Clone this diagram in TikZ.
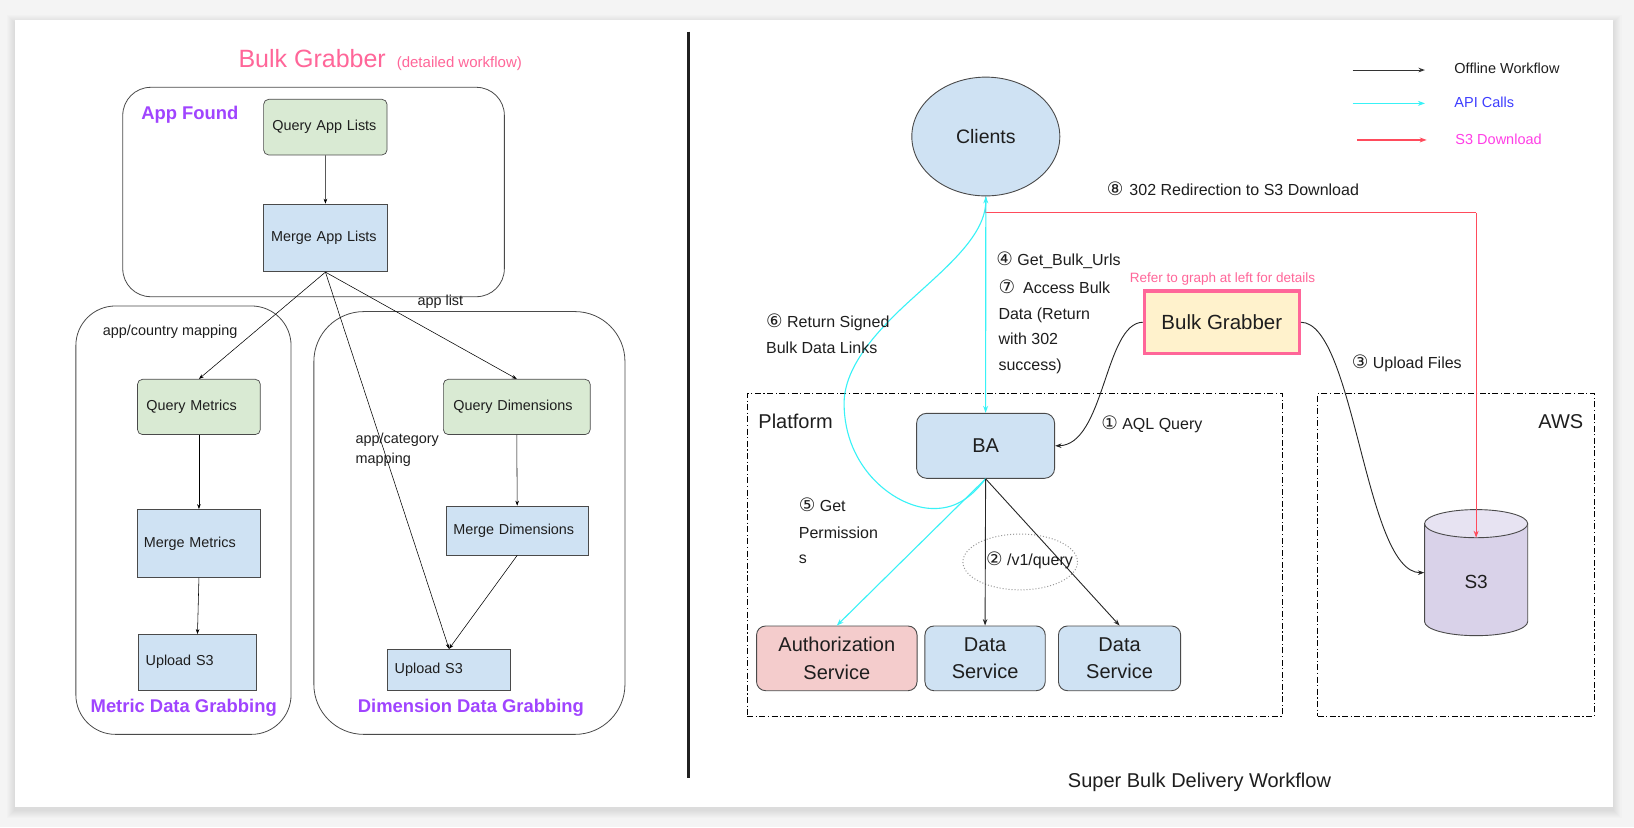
\documentclass[tikz,border=0pt]{standalone}
\usepackage{fontspec}
\setmainfont{Liberation Sans}
\newfontfamily\circfont{DejaVu Sans}
\usetikzlibrary{arrows.meta,shapes.geometric}
\newcommand\fsz[1]{\fontsize{#1}{#1}\selectfont}
\newcommand\cn[1]{{\circfont\fontsize{18.5}{18.5}\selectfont #1}}

\definecolor{pagebg}{HTML}{F4F4F4}
\definecolor{titlepink}{HTML}{FF6699}
\definecolor{purp}{HTML}{A044FF}
\definecolor{gfill}{HTML}{D9EAD3}
\definecolor{bfill}{HTML}{CFE2F3}
\definecolor{yfill}{HTML}{FFF2CC}
\definecolor{rfill}{HTML}{F4CCCC}
\definecolor{s3body}{HTML}{D9D2E9}
\definecolor{s3cap}{HTML}{E7E3F2}
\definecolor{cyanl}{HTML}{38F2F7}
\definecolor{redl}{HTML}{FF4B5C}
\definecolor{txt}{HTML}{1E1E1E}
\definecolor{edge}{HTML}{4A4A4A}
\definecolor{bgborder}{HTML}{FF6699}
\definecolor{apiblue}{HTML}{3D3DFF}
\definecolor{s3mag}{HTML}{FF3EE6}
\definecolor{divider}{HTML}{202020}

\tikzset{
  lbox/.style={draw=edge, line width=0.7pt, align=left, inner ysep=0pt,
               font=\fsz{14.4}, text=txt},
  gbox/.style={lbox, fill=gfill, rounded corners=5pt},
  bbox/.style={lbox, fill=bfill},
  cont/.style={draw=edge, line width=0.8pt},
  rbox/.style={draw=edge, line width=0.9pt, rounded corners=9pt, align=center,
               inner sep=0pt, font=\fontsize{20}{27.1}\selectfont, text=txt},
  larr/.style={draw=black, line width=0.55pt, -{Stealth[length=5pt,width=3.6pt]}},
  barr/.style={draw=black!85, line width=0.9pt, -{Stealth[length=6.5pt,width=4.6pt]}},
  carr/.style={draw=cyanl, line width=1.1pt, -{Stealth[length=7pt,width=5pt]}},
  rarr/.style={draw=redl, line width=1.1pt, -{Stealth[length=7pt,width=5pt]}},
  purlab/.style={text=purp, font=\bfseries\fsz{18.4}, inner sep=0pt},
  lab/.style={font=\fsz{16}, text=txt, inner sep=0pt, anchor=base west},
  llab/.style={font=\fsz{14.4}, text=txt, inner sep=0pt, anchor=base west},
  leglab/.style={font=\fsz{14.5}, inner sep=0pt, anchor=base west},
  dashbox/.style={draw=black, line width=0.8pt,
                  dash pattern=on 6pt off 2.5pt on 1.2pt off 2.5pt},
}

\begin{document}
\begin{tikzpicture}[x=1.0421pt, y=-1.0421pt]
\useasboundingbox (0,0) rectangle (1568,794);

% page and card with a soft shadow
\fill[pagebg] (0,0) rectangle (1568,794);
\foreach \s in {1,...,8}
  \fill[black, opacity=0.012] (14.4-\s,19.2-\s+3) rectangle (1548+\s,774.4+\s+3);
\fill[white] (14.4,19.2) rectangle (1548,774.4);

% ---------------- left: Bulk Grabber detailed workflow ----------------
\node[anchor=base west, inner sep=0pt, text=titlepink] (ttl) at (228.7,64.6)
  {{\fsz{25}Bulk Grabber}\hspace{11pt}{\fsz{15}(detailed workflow)}};

% group containers
\node[cont, rounded corners=28pt, minimum width=381.6pt, minimum height=209.4pt] (appf) at (300.9,184.25) {};
\node[cont, rounded corners=39.6pt, minimum width=215.2pt, minimum height=428.4pt] (metg) at (176.05,499.15) {};
\node[cont, rounded corners=50pt, minimum width=311.1pt, minimum height=422.8pt] (dimg) at (450.45,501.85) {};

\node[purlab, anchor=base west] (afl) at (135.4,114.5) {App Found};
\node[purlab, anchor=base] (mdg) at (176.3,684) {Metric Data Grabbing};
\node[purlab, anchor=base] (ddg) at (451.9,684) {Dimension Data Grabbing};

% process boxes
\node[gbox, minimum height=55.6pt, inner xsep=8.75pt, text width=105.9pt] (qal) at (312.2,122) {Query App Lists};
\node[bbox, minimum height=67.7pt, inner xsep=7.6pt, text width=108.8pt] (mal) at (312.3,228.3) {Merge App Lists};
\node[gbox, minimum height=55.3pt, inner xsep=8.9pt, text width=105pt] (qm) at (190.9,390.5) {Query Metrics};
\node[bbox, minimum height=67.9pt, inner xsep=6.25pt, text width=110.3pt] (mm) at (190.9,521.4) {Merge Metrics};
\node[bbox, minimum height=55.6pt, inner xsep=7.3pt, text width=103.7pt] (us1) at (189.5,635.4) {Upload S3};
\node[gbox, minimum height=55.3pt, inner xsep=10pt, text width=126.8pt] (qd) at (495.9,390.5) {Query Dimensions};
\node[bbox, minimum height=49pt, inner xsep=6.9pt, text width=127.7pt] (md) at (496.3,509.1) {Merge Dimensions};
\node[bbox, minimum height=40.7pt, inner xsep=7.3pt, text width=108.6pt] (us2) at (430.9,642.5) {Upload S3};

% edge texts
\node[llab] (acm) at (98.5,322.4) {app/country mapping};
\node[llab] (apl) at (400.5,293.5) {app list};
\node[llab] (ccm1) at (341,425.5) {app/category};
\node[llab] (ccm2) at (341,444.8) {mapping};

% flows
\draw[larr] (qal.south) -- (mal.north);
\draw[larr] (mal.south) -- (qm.north);
\draw[larr] (mal.south) -- (qd.north);
\draw[larr] (mal.south) -- (us2.north);
\draw[larr] (qm.south) -- (mm.north);
\draw[larr] (mm.south) -- (us1.north);
\draw[larr] (qd.south) -- (md.north);
\draw[larr] (md.south) -- (us2.north);

% divider
\draw[divider, line width=3.4pt] (660.6,30.4) -- (660.6,746.9);

% ---------------- right: Super Bulk Delivery Workflow ----------------
% legend
\coordinate (k1a) at (1298,67.2);   \coordinate (k1b) at (1367.4,67.2);
\coordinate (k2a) at (1298,99.2);   \coordinate (k2b) at (1367.4,99.2);
\coordinate (k3a) at (1302,134.3);  \coordinate (k3b) at (1369,134.3);
\draw[barr, draw=black!80, line width=1pt] (k1a) -- (k1b);
\draw[carr] (k2a) -- (k2b);
\draw[rarr] (k3a) -- (k3b);
\node[leglab, text=txt] (lg1) at (1395.5,70.6) {Offline Workflow};
\node[leglab, text=apiblue] (lg2) at (1395.5,103) {API Calls};
\node[leglab, text=s3mag] (lg3) at (1396.5,138.5) {S3 Download};

% zones
\node[dashbox, minimum width=534.7pt, minimum height=322.9pt] (plat) at (973.6,532.6) {};
\node[dashbox, minimum width=276.5pt, minimum height=322.9pt] (aws) at (1397.05,532.6) {};
\node[font=\fsz{20}, text=txt, inner sep=0pt, anchor=base west] (platl) at (727.6,411.5) {Platform};
\node[font=\fsz{20}, text=txt, inner sep=0pt, anchor=base east] (awsl) at (1519.5,411) {AWS};

% components
\node[ellipse, draw=edge, line width=0.9pt, fill=bfill, inner sep=0pt,
      minimum width=148pt, minimum height=118.8pt, font=\fsz{19.5}, text=txt] (cli) at (946,131) {Clients};
\node[rbox, fill=bfill, minimum width=138pt, minimum height=65pt, rounded corners=10pt] (ba) at (945.8,427.8) {BA};
\node[draw=bgborder, line width=3.2pt, fill=yfill, inner sep=0pt, minimum width=155pt,
      minimum height=62.6pt, font=\fsz{20.5}, text=txt] (bg) at (1172.5,309.2) {Bulk Grabber};
\node[anchor=base west, inner sep=0pt, font=\fsz{13.5}, text=bgborder] (refl) at (1084,271.5) {Refer to graph at left for details};
\node[rbox, fill=rfill, minimum width=160.5pt, minimum height=64.7pt] (auth) at (803,631.75) {Authorization\\Service};
\node[rbox, fill=bfill, minimum width=120.3pt, minimum height=64.7pt] (ds1) at (945.3,631.75) {Data\\Service};
\node[rbox, fill=bfill, minimum width=122.2pt, minimum height=64.7pt] (ds2) at (1074.35,631.75) {Data\\Service};

% S3 bucket
\fill[s3body] (1367,502.5) -- (1367,596.5)
  .. controls (1367,603.96) and (1389.16,610) .. (1416.5,610)
  .. controls (1443.84,610) and (1466,603.96) .. (1466,596.5) -- (1466,502.5) -- cycle;
\draw[edge, line width=0.9pt] (1367,502.5) -- (1367,596.5)
  .. controls (1367,603.96) and (1389.16,610) .. (1416.5,610)
  .. controls (1443.84,610) and (1466,603.96) .. (1466,596.5) -- (1466,502.5);
\filldraw[fill=s3cap, draw=edge, line width=0.9pt] (1416.5,502.5) ellipse [x radius=49.5, y radius=13.5];
\node[inner sep=0pt, minimum width=103.2pt, minimum height=126.1pt] (s3) at (1416.5,549.5) {};
\node[font=\fsz{19}, text=txt, inner sep=0pt] (s3l) at (1416.5,558.2) {S3};
\coordinate (s3top) at (1416.5,516);
\coordinate (rc) at (1416.5,204);

% query scope marker
\node[ellipse, draw=black!40, line width=1pt, dash pattern=on 1pt off 2pt, inner sep=0pt,
      minimum width=114.6pt, minimum height=55.8pt] (qell) at (979,539.25) {};

% flows
\draw[redl, line width=1.1pt] (cli.south) |- (rc);
\draw[rarr] (rc) -- (s3top);
\draw[carr] (cli.south) -- (ba.north);
\draw[carr] (ba.south) .. controls (930,480) and (915,488) .. (896,488)
  .. controls (860,488) and (810,450) .. (810,387)
  .. controls (810,350) and (845,314) .. (876,286)
  .. controls (910,255) and (946,225) .. (cli.south);
\draw[carr] (ba.south) -- (auth.north);
\draw[barr] (ba.south) -- (ds1.north);
\draw[barr] (ba.south) -- (ds2.north);
\draw[barr] (bg.west) .. controls (1060,310) and (1060,427) .. (ba.east);
\draw[barr] (bg.east) .. controls (1300,310) and (1310,550) .. (s3.west);

% step labels
\node[lab] (l8) at (1062,188) {\cn{⑧}\hspace{6pt}302 Redirection to S3 Download};
\node[lab] (l4) at (956,254.5) {\cn{④} Get\_Bulk\_Urls};
\node[lab] (l7a) at (958,281.2) {\cn{⑦}\hspace{8pt}Access Bulk};
\node[lab] (l7b) at (958,306.2) {Data (Return};
\node[lab] (l7c) at (958,330.8) {with 302};
\node[lab] (l7d) at (958,355.8) {success)};
\node[lab] (l6a) at (735,314.2) {\cn{⑥} Return Signed};
\node[lab] (l6b) at (735,339.1) {Bulk Data Links};
\node[lab] (l1) at (1056.6,412.5) {\cn{①} AQL Query};
\node[lab] (l3) at (1297,353.5) {\cn{③} Upload Files};
\node[lab] (l5a) at (766.4,491) {\cn{⑤} Get};
\node[lab] (l5b) at (766.4,516.3) {Permission};
\node[lab] (l5c) at (766.4,541.2) {s};
\node[lab] (l2) at (946,543) {\cn{②} /v1/query};

\node[font=\fsz{20}, text=txt, inner sep=0pt, anchor=base] (cap) at (1151,755.8) {Super Bulk Delivery Workflow};
\end{tikzpicture}
\end{document}
